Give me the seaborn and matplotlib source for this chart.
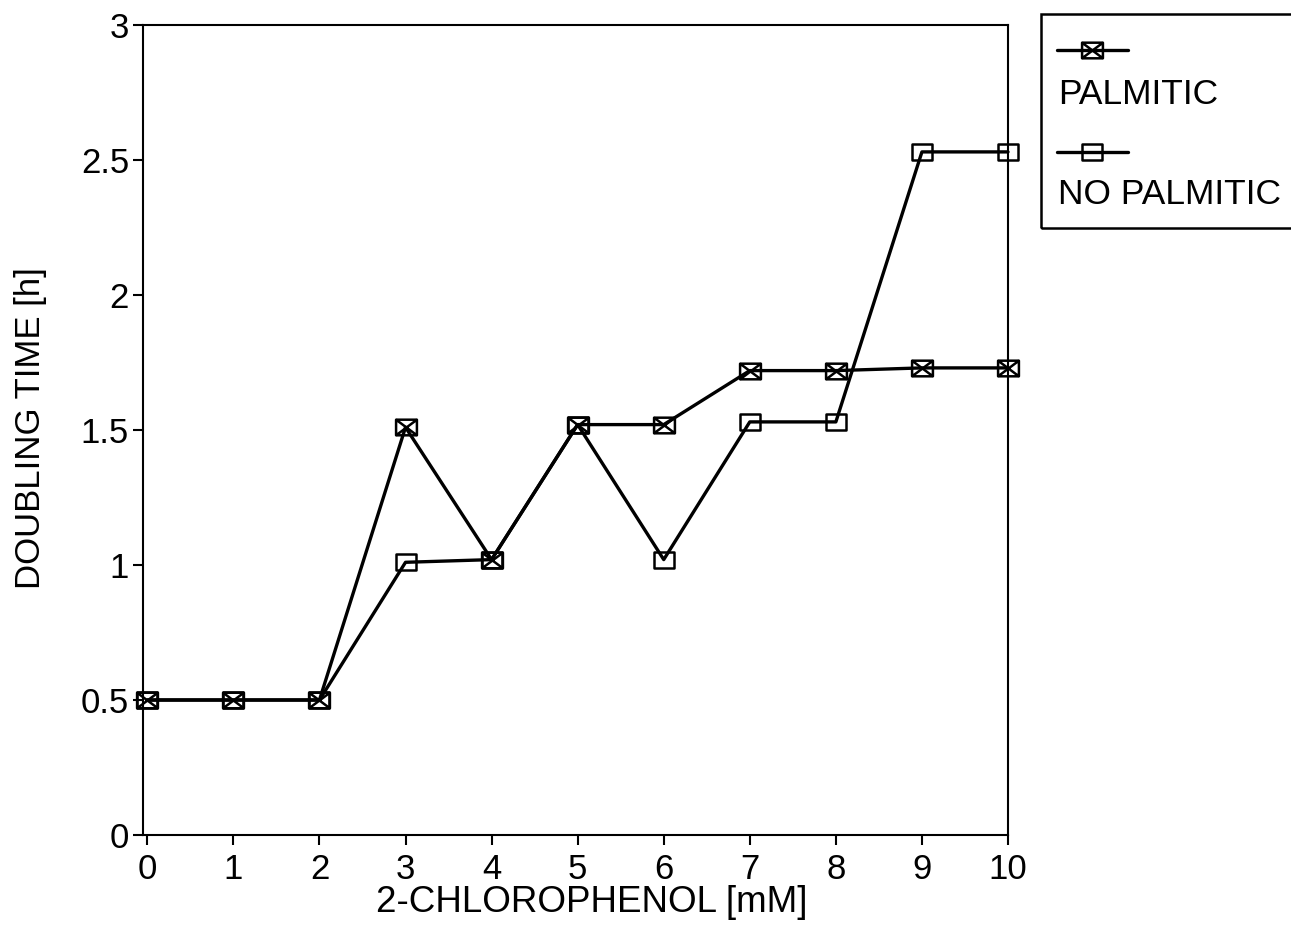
import numpy as np
import pandas as pd
import matplotlib
matplotlib.use("Agg")
import matplotlib.pyplot as plt
from matplotlib.path import Path
from matplotlib.lines import Line2D
from matplotlib.patches import Rectangle
import seaborn as sns

# data
conc = [0, 1, 2, 3, 4, 5, 6, 7, 8, 9, 10]
palmitic = [0.5, 0.5, 0.5, 1.51, 1.02, 1.52, 1.52, 1.72, 1.72, 1.73, 1.73]
no_palmitic = [0.5, 0.5, 0.5, 1.01, 1.02, 1.52, 1.02, 1.53, 1.53, 2.53, 2.53]
x_ticks = [0, 1, 2, 3, 4, 5, 6, 7, 8, 9, 10]
y_ticks = [0, 0.5, 1, 1.5, 2, 2.5, 3]
y_ticklabels = ["0", "0.5", "1", "1.5", "2", "2.5", "3"]

df = pd.DataFrame({"conc": conc, "PALMITIC": palmitic, "NO PALMITIC": no_palmitic})

sns.set_style("ticks")
plt.rcParams["font.family"] = ["Liberation Sans", "DejaVu Sans"]
plt.rcParams["text.color"] = "black"
plt.rcParams["axes.labelcolor"] = "black"

# rectangular markers, one with the crossed diagonals
box = Path([(-1, -0.75), (1, -0.75), (1, 0.75), (-1, 0.75), (-1, -0.75)],
           [Path.MOVETO, Path.LINETO, Path.LINETO, Path.LINETO, Path.CLOSEPOLY])
xbox = Path([(-1, -0.75), (1, -0.75), (1, 0.75), (-1, 0.75), (-1, -0.75),
             (-1, -0.75), (1, 0.75), (-1, 0.75), (1, -0.75)],
            [Path.MOVETO, Path.LINETO, Path.LINETO, Path.LINETO, Path.CLOSEPOLY,
             Path.MOVETO, Path.LINETO, Path.MOVETO, Path.LINETO])

mk = dict(color="black", lw=2.4, markersize=15, mfc="none", mec="black", mew=1.8)

fig = plt.figure(figsize=(12.91, 9.34), dpi=100)
ax = fig.add_axes([143 / 1291, 1 - 835 / 934, (1008 - 143) / 1291, (835 - 25) / 934])

sns.lineplot(data=df, x="conc", y="NO PALMITIC", marker=box, ax=ax, legend=False,
             clip_on=False, **mk)
sns.lineplot(data=df, x="conc", y="PALMITIC", marker=xbox, ax=ax, legend=False,
             clip_on=False, **mk)

ax.set_xlim(-0.05, 10)
ax.set_ylim(0, 3)
ax.set_xticks(x_ticks)
ax.set_yticks(y_ticks)
ax.set_yticklabels(y_ticklabels)
ax.tick_params(direction="out", length=7, width=1.5, labelsize=25, colors="black")
ax.tick_params(axis="x", pad=6)
ax.tick_params(axis="y", pad=3)
for s in ax.spines.values():
    s.set_linewidth(1.5)
    s.set_color("black")

ax.set_xlabel("2-CHLOROPHENOL [mM]", fontsize=26.5, va="top")
ax.set_ylabel("DOUBLING TIME [h]", fontsize=25, va="center")
ax.xaxis.set_label_coords(0.519, -0.062)
ax.yaxis.set_label_coords(-0.13, 0.502)

# legend drawn by hand: handle on one line, label under it
W, H = 1291, 934
fig.add_artist(Rectangle((1041 / W, 1 - 228 / H), 300 / W, (228 - 14) / H,
                         transform=fig.transFigure, fill=False, lw=1.8, ec="black"))
for yh, yt, m, lab in [(50, 95, xbox, "PALMITIC"), (152, 194, box, "NO PALMITIC")]:
    fig.add_artist(Line2D(np.array([1057, 1092, 1128]) / W, [1 - yh / H] * 3,
                          transform=fig.transFigure, marker=m, markevery=[1], **mk))
    fig.text(1058 / W, 1 - yt / H, lab, fontsize=25.5, va="center", ha="left")

fig.savefig("out.png", dpi=100)
